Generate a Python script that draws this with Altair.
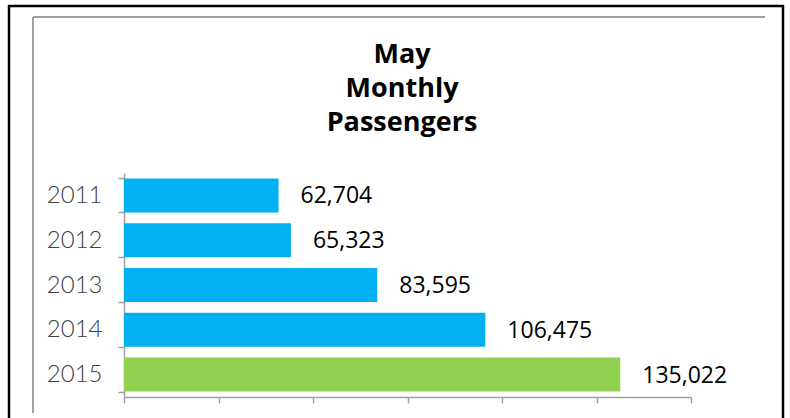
import altair as alt
import pandas as pd

years = ["2011", "2012", "2013", "2014", "2015"]
passengers = [62704, 65323, 83595, 106475, 135022]
bar_colors = ["#00B0F0", "#00B0F0", "#00B0F0", "#00B0F0", "#92D050"]
axis_min = 30000
axis_max = 150000
x_ticks = [30000, 50000, 70000, 90000, 110000, 130000, 150000]
title_lines = ["May", "Monthly", "Passengers"]

df = pd.DataFrame({"year": years, "passengers": passengers})
one = pd.DataFrame({"a": [0]})

y_enc = alt.Y(
    "year:N",
    sort=years,
    title=None,
    scale=alt.Scale(paddingInner=0.24, paddingOuter=0.12),
    axis=alt.Axis(
        tickBand="extent",
        grid=False,
        domainColor="#A0A0A0",
        tickColor="#A0A0A0",
        domainWidth=1.5,
        tickWidth=1.5,
        tickSize=6,
        labelPadding=16,
        labelFont="Lato",
        labelFontWeight=300,
        labelFontSize=24,
        labelColor="#404040",
    ),
)
x_scale = alt.Scale(domain=[axis_min, axis_max], zero=False, nice=False)

bars = alt.Chart(df).mark_bar().encode(
    y=y_enc,
    x=alt.X(
        "passengers:Q",
        scale=x_scale,
        title=None,
        axis=alt.Axis(
            values=x_ticks,
            labels=False,
            grid=False,
            domainColor="#A0A0A0",
            tickColor="#A0A0A0",
            domainWidth=1.5,
            tickWidth=1.5,
            tickSize=6,
        ),
    ),
    x2=alt.datum(axis_min),
    color=alt.Color(
        "year:N", scale=alt.Scale(domain=years, range=bar_colors), legend=None
    ),
)

labels = alt.Chart(df).mark_text(
    align="left", baseline="middle", dx=22, dy=1, font="Open Sans", fontSize=23, color="#000000"
).encode(
    y=alt.Y("year:N", sort=years),
    x=alt.X("passengers:Q", scale=x_scale),
    text=alt.Text("passengers:Q", format=","),
)

title = alt.Chart(one).mark_text(
    align="center", baseline="alphabetic", font="Open Sans", fontSize=27,
    fontWeight="bold", lineHeight=34, color="#000000"
).encode(
    x=alt.value(278), y=alt.value(-110), text=alt.value(title_lines)
)

outer = alt.Chart(one).mark_rect(filled=False, stroke="#000000", strokeWidth=2.5).encode(
    x=alt.value(-115), x2=alt.value(659), y=alt.value(-167), y2=alt.value(262)
)
inner_top = alt.Chart(one).mark_rule(color="#A0A0A0", strokeWidth=2).encode(
    x=alt.value(-91), x2=alt.value(641), y=alt.value(-156)
)
inner_left = alt.Chart(one).mark_rule(color="#A0A0A0", strokeWidth=2).encode(
    x=alt.value(-91), y=alt.value(-156), y2=alt.value(240)
)

chart = (
    alt.layer(outer, inner_top, inner_left, title, bars, labels)
    .properties(
        width=567,
        height=224,
        padding={"left": 124, "top": 173, "right": 99, "bottom": 21},
        autosize=alt.AutoSizeParams(type="none"),
        background="#FFFFFF",
    )
    .configure_view(strokeWidth=0, stroke="transparent")
    .configure_axis(grid=False)
)

chart.save("out.html", embed_options={"renderer": "svg", "actions": False})
